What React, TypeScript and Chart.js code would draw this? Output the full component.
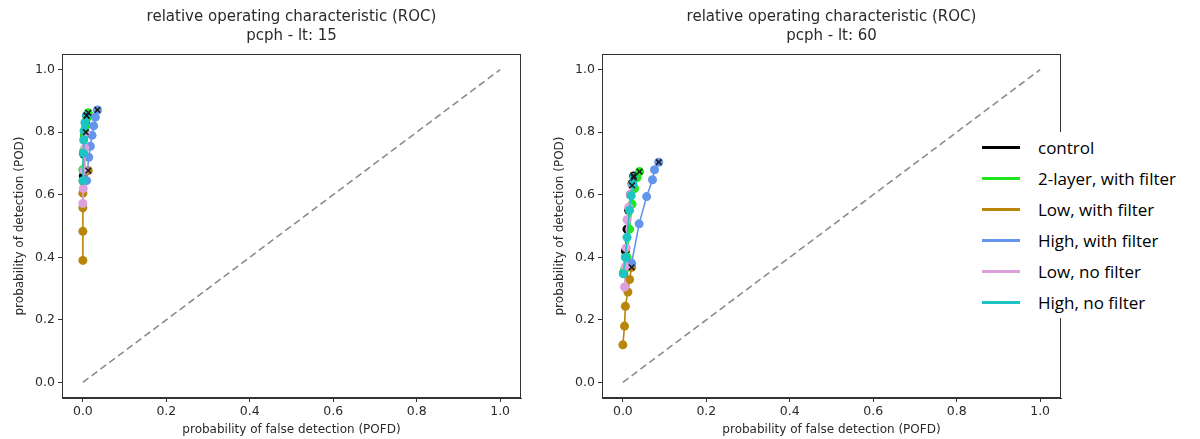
import React, { useEffect, useRef } from 'react';
import { Chart, registerables } from 'chart.js';

Chart.register(...registerables);

const seriesNames = [
  'control',
  '2-layer, with filter',
  'Low, with filter',
  'High, with filter',
  'Low, no filter',
  'High, no filter',
];
const seriesColors = ['#000000', '#1fe61f', '#b8860b', '#6495ed', '#dda0dd', '#1cc4c4'];

const axisTicks = [0, 0.2, 0.4, 0.6, 0.8, 1.0];
const diagonalX = [0, 1];
const diagonalY = [0, 1];

const titleLine1 = 'relative operating characteristic (ROC)';
const titleLeft = 'pcph - lt: 15';
const titleRight = 'pcph - lt: 60';
const xLabelLeft = 'probability of false detection (POFD)';
const xLabelRight = 'probability of false detection (POFD)';
const yLabel = 'probability of detection (POD)';

// ---- lead time 15 ----
const pofdControl15 = [0.001, 0.002, 0.004, 0.006, 0.009];
const podControl15 = [0.66, 0.73, 0.79, 0.83, 0.853];
const pofdTwoLayer15 = [0.0, 0.002, 0.004, 0.007, 0.01, 0.013];
const podTwoLayer15 = [0.68, 0.74, 0.79, 0.82, 0.845, 0.862];
const pofdLowFilter15 = [0.0, 0.0, 0.0, 0.0, 0.001, 0.013];
const podLowFilter15 = [0.39, 0.483, 0.558, 0.605, 0.643, 0.677];
const pofdHighFilter15 = [0.009, 0.014, 0.018, 0.022, 0.026, 0.03, 0.035];
const podHighFilter15 = [0.645, 0.72, 0.755, 0.79, 0.82, 0.848, 0.871];
const pofdLowNoFilter15 = [0.0, 0.001, 0.003, 0.005, 0.007];
const podLowNoFilter15 = [0.572, 0.62, 0.677, 0.75, 0.8];
const pofdHighNoFilter15 = [0.0, 0.001, 0.002, 0.003, 0.005, 0.009];
const podHighNoFilter15 = [0.645, 0.733, 0.775, 0.805, 0.83, 0.853];

// ---- lead time 60 ----
const pofdControl60 = [0.002, 0.006, 0.01, 0.014, 0.018, 0.022, 0.026];
const podControl60 = [0.35, 0.42, 0.49, 0.55, 0.6, 0.635, 0.66];
const pofdTwoLayer60 = [0.004, 0.01, 0.016, 0.022, 0.028, 0.034, 0.04];
const podTwoLayer60 = [0.36, 0.4, 0.49, 0.57, 0.62, 0.655, 0.674];
const pofdLowFilter60 = [0.0, 0.004, 0.006, 0.012, 0.016, 0.021];
const podLowFilter60 = [0.12, 0.18, 0.243, 0.289, 0.329, 0.368];
const pofdHighFilter60 = [0.021, 0.039, 0.057, 0.071, 0.076, 0.086];
const podHighFilter60 = [0.381, 0.507, 0.594, 0.648, 0.68, 0.704];
const pofdLowNoFilter60 = [0.004, 0.006, 0.008, 0.01, 0.014, 0.018, 0.022];
const podLowNoFilter60 = [0.305, 0.37, 0.43, 0.52, 0.56, 0.6, 0.63];
const pofdHighNoFilter60 = [0.001, 0.006, 0.01, 0.016, 0.02, 0.024, 0.026];
const podHighNoFilter60 = [0.347, 0.4, 0.464, 0.55, 0.597, 0.633, 0.655];

const pofd15 = [pofdControl15, pofdTwoLayer15, pofdLowFilter15, pofdHighFilter15, pofdLowNoFilter15, pofdHighNoFilter15];
const pod15 = [podControl15, podTwoLayer15, podLowFilter15, podHighFilter15, podLowNoFilter15, podHighNoFilter15];
const pofd60 = [pofdControl60, pofdTwoLayer60, pofdLowFilter60, pofdHighFilter60, pofdLowNoFilter60, pofdHighNoFilter60];
const pod60 = [podControl60, podTwoLayer60, podLowFilter60, podHighFilter60, podLowNoFilter60, podHighNoFilter60];

const FONT = "'DejaVu Sans', sans-serif";
const TEXT = '#2a2a2a';
const AXIS = '#333333';

function buildDatasets(pofd: number[][], pod: number[][]) {
  const ds: any[] = [];
  ds.push({
    label: 'no skill',
    data: diagonalX.map((x, i) => ({ x, y: diagonalY[i] })),
    showLine: true,
    borderColor: '#8c8c8c',
    borderDash: [7, 4],
    borderWidth: 1.6,
    pointRadius: 0,
    order: 20,
  });
  pofd.forEach((xs, s) => {
    ds.push({
      label: seriesNames[s],
      data: xs.map((x, i) => ({ x, y: pod[s][i] })),
      showLine: true,
      borderColor: seriesColors[s],
      backgroundColor: seriesColors[s],
      borderWidth: 1.6,
      pointRadius: 4.5,
      pointHoverRadius: 4.5,
      pointBorderWidth: 0,
      order: 10 - s,
    });
  });
  ds.push({
    label: 'end',
    data: pofd.map((xs, s) => ({ x: xs[xs.length - 1], y: pod[s][pod[s].length - 1] })),
    showLine: false,
    pointStyle: 'crossRot',
    pointRadius: 4,
    pointHoverRadius: 4,
    borderColor: '#1a1a1a',
    backgroundColor: '#1a1a1a',
    borderWidth: 1.5,
    order: 0,
  });
  return ds;
}

function makeTitlePlugin(lines: string[]) {
  return {
    id: 'twoLineTitle',
    afterDraw(chart: any) {
      const { ctx, chartArea } = chart;
      const cx = (chartArea.left + chartArea.right) / 2;
      ctx.save();
      ctx.font = `15px ${FONT}`;
      ctx.fillStyle = TEXT;
      ctx.textAlign = 'center';
      ctx.textBaseline = 'middle';
      ctx.fillText(lines[0], cx, 17.5);
      ctx.fillText(lines[1], cx, 36.5);
      ctx.restore();
    },
  };
}

const framePlugin = {
  id: 'frame',
  afterDatasetsDraw(chart: any) {
    const { ctx, chartArea: a } = chart;
    ctx.save();
    ctx.strokeStyle = AXIS;
    ctx.lineWidth = 1;
    ctx.strokeRect(a.left + 0.5, a.top + 0.5, a.right - a.left - 1, a.bottom - a.top - 1);
    ctx.restore();
  },
};

function makeScales(xLabel: string) {
  const common = {
    type: 'linear',
    min: -0.05,
    max: 1.05,
    afterBuildTicks: (s: any) => {
      s.ticks = axisTicks.map((v) => ({ value: v }));
    },
    grid: { drawOnChartArea: false, drawTicks: true, tickLength: 4, color: AXIS, lineWidth: 1 },
    border: { display: true, color: AXIS, width: 1 },
  };
  return {
    x: {
      ...common,
      position: 'bottom',
      afterFit: (s: any) => {
        s.height = 41;
      },
      ticks: {
        callback: (v: any) => Number(v).toFixed(1),
        font: { family: FONT, size: 12.5 },
        color: TEXT,
        padding: 2,
        maxRotation: 0,
        autoSkip: false,
      },
      title: {
        display: true,
        text: xLabel,
        font: { family: FONT, size: 12 },
        color: TEXT,
        padding: { top: 0, bottom: 2 },
      },
    },
    y: {
      ...common,
      position: 'left',
      afterFit: (s: any) => {
        s.width = 62;
      },
      ticks: {
        callback: (v: any) => Number(v).toFixed(1),
        font: { family: FONT, size: 12.5 },
        color: TEXT,
        padding: 3,
        autoSkip: false,
      },
      title: {
        display: true,
        text: yLabel,
        font: { family: FONT, size: 12 },
        color: TEXT,
        padding: { top: 13, bottom: 0 },
      },
    },
  };
}

function RocPlot(props: {
  left: number;
  width: number;
  rightPad: number;
  subtitle: string;
  xLabel: string;
  pofd: number[][];
  pod: number[][];
}) {
  const ref = useRef<HTMLCanvasElement | null>(null);
  useEffect(() => {
    if (!ref.current) return;
    const chart = new Chart(ref.current, {
      type: 'scatter',
      data: { datasets: buildDatasets(props.pofd, props.pod) },
      options: {
        responsive: false,
        animation: false,
        events: [],
        layout: { padding: { top: 54, right: props.rightPad, left: 0, bottom: 0 } },
        plugins: {
          legend: { display: false },
          tooltip: { enabled: false },
          title: { display: false },
        },
        scales: makeScales(props.xLabel) as any,
      },
      plugins: [makeTitlePlugin([titleLine1, props.subtitle]), framePlugin],
    } as any);
    return () => chart.destroy();
  }, []);
  return (
    <canvas
      ref={ref}
      width={props.width}
      height={439}
      style={{ position: 'absolute', left: props.left, top: 0, width: props.width, height: 439 }}
    />
  );
}

function Legend() {
  return (
    <div
      style={{
        position: 'absolute',
        left: 975,
        top: 132,
        width: 215,
        height: 186,
        background: '#ffffff',
        fontFamily: "'Open Sans', sans-serif",
        fontSize: 17,
        color: '#000000',
      }}
    >
      {seriesNames.map((name, i) => (
        <div key={name} style={{ height: 31, display: 'flex', alignItems: 'center' }}>
          <div style={{ marginLeft: 7, width: 38, height: 3, background: seriesColors[i] }} />
          <div style={{ marginLeft: 18, whiteSpace: 'nowrap', lineHeight: '31px' }}>{name}</div>
        </div>
      ))}
    </div>
  );
}

export default function App() {
  return (
    <div
      style={{
        position: 'absolute',
        left: 0,
        top: 0,
        width: 1200,
        height: 439,
        background: '#ffffff',
        overflow: 'hidden',
      }}
    >
      <RocPlot left={0} width={540} rightPad={19} subtitle={titleLeft} xLabel={xLabelLeft} pofd={pofd15} pod={pod15} />
      <RocPlot left={540} width={660} rightPad={139} subtitle={titleRight} xLabel={xLabelRight} pofd={pofd60} pod={pod60} />
      <Legend />
    </div>
  );
}
